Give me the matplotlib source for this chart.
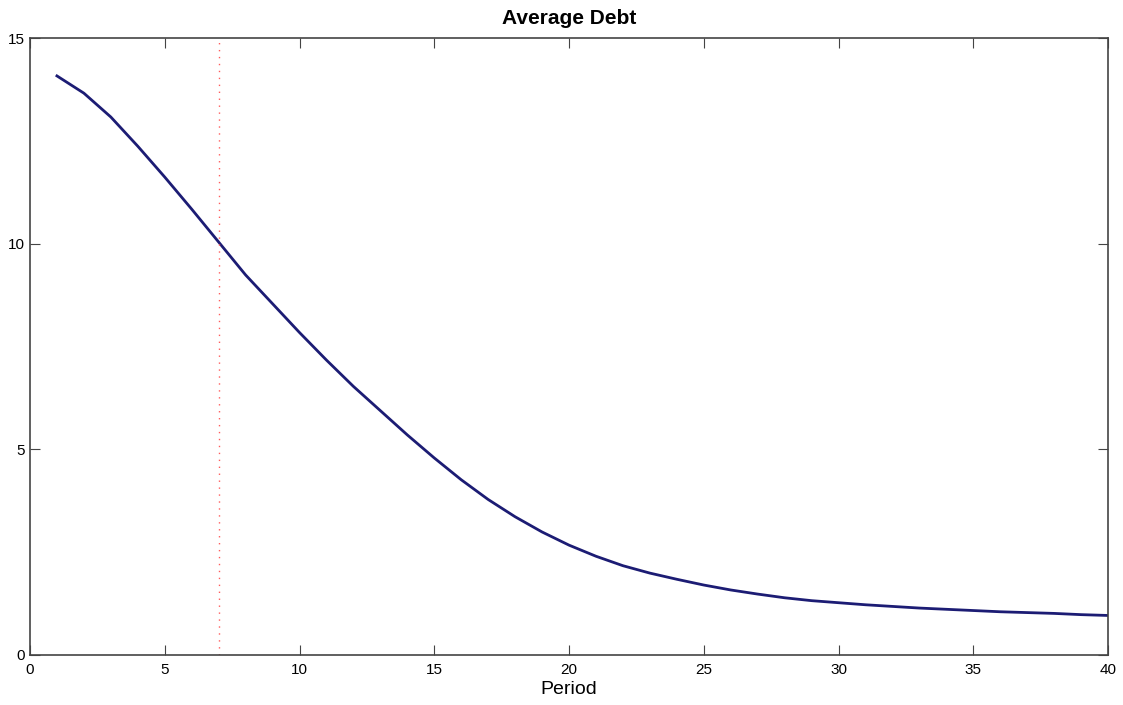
import numpy as np
import matplotlib.pyplot as plt

plt.rcParams.update({
    'font.family': ['Liberation Sans', 'DejaVu Sans'],
})

# values
period = np.arange(1, 41)
avg_debt = [14.08, 13.66, 13.08, 12.37, 11.62, 10.84, 10.04, 9.24, 8.54, 7.84,
            7.17, 6.53, 5.94, 5.35, 4.79, 4.26, 3.78, 3.36, 2.99, 2.67,
            2.40, 2.17, 1.99, 1.84, 1.70, 1.58, 1.48, 1.39, 1.32, 1.27,
            1.22, 1.18, 1.14, 1.11, 1.08, 1.05, 1.03, 1.01, 0.98, 0.96]
marker_period = 7

fig = plt.figure(figsize=(11.23, 7.05), dpi=100)
ax = fig.add_axes([0.0267, 0.071, 0.96, 0.875])

ax.plot(period, avg_debt, color='#1c1c74', lw=2)
ax.axvline(marker_period, color='#ff5c5c', ls=(0, (1, 4)), lw=1)

ax.set_xlim(0, 40)
ax.set_ylim(0, 15)
ax.set_xticks(np.arange(0, 41, 5))
ax.set_yticks([0, 5, 10, 15])
ax.tick_params(direction='in', length=7, width=0.8, color='#444444',
               top=True, right=True, labelsize=11)
ax.tick_params(axis='x', pad=6)
ax.tick_params(axis='y', pad=4)
for s in ax.spines.values():
    s.set_color('#444444')
    s.set_linewidth(1.2)

ax.set_title('Average Debt', fontsize=15, fontweight='bold', pad=10)
ax.set_xlabel('Period', fontsize=14, labelpad=3)

fig.savefig('out.png', dpi=100)
